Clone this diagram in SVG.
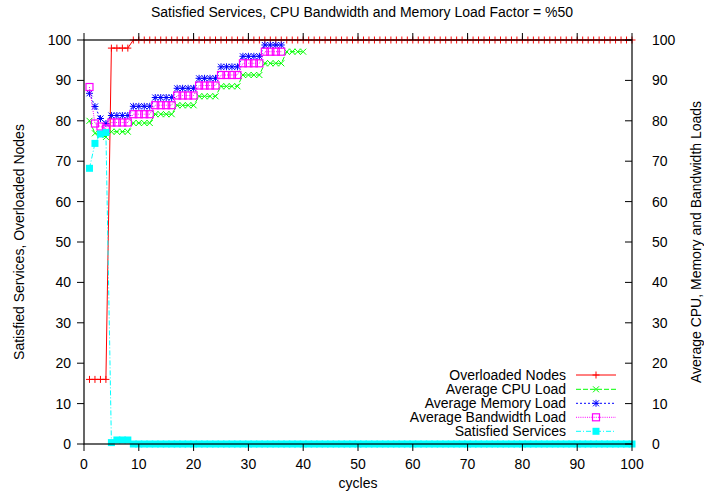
<svg xmlns="http://www.w3.org/2000/svg" width="704" height="495" viewBox="0 0 704 495">
<style>
text{font-family:"Liberation Sans",Arial,Helvetica,sans-serif;font-size:14px;fill:#000}
.r{text-anchor:end}.m{text-anchor:middle}
.ax{fill:none;stroke:#000;stroke-width:1.2}
.tk{fill:none;stroke:#000;stroke-width:1}
.s1{fill:none;stroke:#ff0000;stroke-width:1;marker-start:url(#mPlus);marker-mid:url(#mPlus);marker-end:url(#mPlus)}
.s2{fill:none;stroke:#00ff00;stroke-width:1;stroke-dasharray:5 2;marker-start:url(#mX);marker-mid:url(#mX);marker-end:url(#mX)}
.s3{fill:none;stroke:#0000ff;stroke-width:1;stroke-dasharray:2 2;marker-start:url(#mStar);marker-mid:url(#mStar);marker-end:url(#mStar)}
.s4{fill:none;stroke:#ff00ff;stroke-width:1;stroke-dasharray:1 1.2;marker-start:url(#mBox);marker-mid:url(#mBox);marker-end:url(#mBox)}
.s5{fill:none;stroke:#00ffff;stroke-width:1;stroke-dasharray:5 2 1 2;marker-start:url(#mSq);marker-mid:url(#mSq);marker-end:url(#mSq)}
</style>
<defs>
<marker id="mPlus" markerUnits="userSpaceOnUse" overflow="visible" refX="0" refY="0"><path d="M-3.5 0H3.5M0 -3.5V3.5" stroke="#ff0000" stroke-width="1" fill="none"/></marker>
<marker id="mX" markerUnits="userSpaceOnUse" overflow="visible" refX="0" refY="0"><path d="M-3 -3L3 3M-3 3L3 -3" stroke="#00ff00" stroke-width="1" fill="none"/></marker>
<marker id="mStar" markerUnits="userSpaceOnUse" overflow="visible" refX="0" refY="0"><path d="M-3.5 0H3.5M0 -3.5V3.5M-3 -3L3 3M-3 3L3 -3" stroke="#0000ff" stroke-width="1" fill="none"/></marker>
<marker id="mBox" markerUnits="userSpaceOnUse" overflow="visible" refX="0" refY="0"><rect x="-3.5" y="-3.5" width="7" height="7" stroke="#ff00ff" stroke-width="1.2" fill="none"/></marker>
<marker id="mSq" markerUnits="userSpaceOnUse" overflow="visible" refX="0" refY="0"><rect x="-3.5" y="-3.5" width="7" height="7" fill="#00ffff"/></marker>
</defs>
<rect width="704" height="495" fill="#fff"/>
<text id="title" class="m" x="362" y="17">Satisfied Services, CPU Bandwidth and Memory Load Factor = %50</text>

<g id="series">
<polyline id="overloaded" class="s1" points="89.48,379.4 94.96,379.4 100.44,379.4 105.92,379.4 111.4,48.1 116.88,48.1 122.36,48.1 127.84,48.1 133.32,40 138.8,40 144.28,40 149.76,40 155.24,40 160.72,40 166.2,40 171.68,40 177.16,40 182.64,40 188.12,40 193.6,40 199.08,40 204.56,40 210.04,40 215.52,40 221,40 226.48,40 231.96,40 237.44,40 242.92,40 248.4,40 253.88,40 259.36,40 264.84,40 270.32,40 275.8,40 281.28,40 286.76,40 292.24,40 297.72,40 303.2,40 308.68,40 314.16,40 319.64,40 325.12,40 330.6,40 336.08,40 341.56,40 347.04,40 352.52,40 358,40 363.48,40 368.96,40 374.44,40 379.92,40 385.4,40 390.88,40 396.36,40 401.84,40 407.32,40 412.8,40 418.28,40 423.76,40 429.24,40 434.72,40 440.2,40 445.68,40 451.16,40 456.64,40 462.12,40 467.6,40 473.08,40 478.56,40 484.04,40 489.52,40 495,40 500.48,40 505.96,40 511.44,40 516.92,40 522.4,40 527.88,40 533.36,40 538.84,40 544.32,40 549.8,40 555.28,40 560.76,40 566.24,40 571.72,40 577.2,40 582.68,40 588.16,40 593.64,40 599.12,40 604.6,40 610.08,40 615.56,40 621.04,40 626.52,40 632,40"/>
<polyline id="cpu" class="s2" points="89.48,120.8 94.96,133.3 100.44,135 105.92,137 111.4,131.7 116.88,131.7 122.36,131.7 127.84,131.7 133.32,123 138.8,123 144.28,123 149.76,123 155.24,114.2 160.72,114.2 166.2,114.2 171.68,114.2 177.16,105.3 182.64,105.3 188.12,105.3 193.6,105.3 199.08,96.3 204.56,96.3 210.04,96.3 215.52,96.3 221,86.3 226.48,86.3 231.96,86.3 237.44,86.3 242.92,75 248.4,75 253.88,75 259.36,75 264.84,63.3 270.32,63.3 275.8,63.3 281.28,63.3 286.76,51.7 292.24,51.7 297.72,51.7 303.2,51.7"/>
<polyline id="memory" class="s3" points="89.48,93.3 94.96,106.5 100.44,118.5 105.92,123.5 111.4,115.5 116.88,115.5 122.36,115.5 127.84,115.5 133.32,106.3 138.8,106.3 144.28,106.3 149.76,106.3 155.24,97.5 160.72,97.5 166.2,97.5 171.68,97.5 177.16,88.3 182.64,88.3 188.12,88.3 193.6,88.3 199.08,78.3 204.56,78.3 210.04,78.3 215.52,78.3 221,66.8 226.48,66.8 231.96,66.8 237.44,66.8 242.92,56.3 248.4,56.3 253.88,56.3 259.36,56.3 264.84,45 270.32,45 275.8,45 281.28,45"/>
<polyline id="bandwidth" class="s4" points="89.48,87 94.96,123.5 100.44,126.5 105.92,128.5 111.4,122.5 116.88,122.5 122.36,122.5 127.84,122.5 133.32,114.2 138.8,114.2 144.28,114.2 149.76,114.2 155.24,105.2 160.72,105.2 166.2,105.2 171.68,105.2 177.16,95.5 182.64,95.5 188.12,95.5 193.6,95.5 199.08,85.5 204.56,85.5 210.04,85.5 215.52,85.5 221,75 226.48,75 231.96,75 237.44,75 242.92,63.3 248.4,63.3 253.88,63.3 259.36,63.3 264.84,51.7 270.32,51.7 275.8,51.7 281.28,51.7"/>
<polyline id="satisfied" class="s5" points="89.48,168.3 94.96,143.4 100.44,134 105.92,132.5 111.4,442.6 116.88,440 122.36,440 127.84,440 133.32,444 138.8,444 144.28,444 149.76,444 155.24,444 160.72,444 166.2,444 171.68,444 177.16,444 182.64,444 188.12,444 193.6,444 199.08,444 204.56,444 210.04,444 215.52,444 221,444 226.48,444 231.96,444 237.44,444 242.92,444 248.4,444 253.88,444 259.36,444 264.84,444 270.32,444 275.8,444 281.28,444 286.76,444 292.24,444 297.72,444 303.2,444 308.68,444 314.16,444 319.64,444 325.12,444 330.6,444 336.08,444 341.56,444 347.04,444 352.52,444 358,444 363.48,444 368.96,444 374.44,444 379.92,444 385.4,444 390.88,444 396.36,444 401.84,444 407.32,444 412.8,444 418.28,444 423.76,444 429.24,444 434.72,444 440.2,444 445.68,444 451.16,444 456.64,444 462.12,444 467.6,444 473.08,444 478.56,444 484.04,444 489.52,444 495,444 500.48,444 505.96,444 511.44,444 516.92,444 522.4,444 527.88,444 533.36,444 538.84,444 544.32,444 549.8,444 555.28,444 560.76,444 566.24,444 571.72,444 577.2,444 582.68,444 588.16,444 593.64,444 599.12,444 604.6,444 610.08,444 615.56,444 621.04,444 626.52,444 632,444"/>
</g>

<g id="axes">
<rect class="ax" x="84" y="40" width="548" height="404"/>
<path class="tk" d="M84 444v7M138.8 444v7M193.6 444v7M248.4 444v7M303.2 444v7M358 444v7M412.8 444v7M467.6 444v7M522.4 444v7M577.2 444v7M632 444v7M84 40v-7M138.8 40v-7M193.6 40v-7M248.4 40v-7M303.2 40v-7M358 40v-7M412.8 40v-7M467.6 40v-7M522.4 40v-7M577.2 40v-7M632 40v-7M84 444h-7M84 403.6h-7M84 363.2h-7M84 322.8h-7M84 282.4h-7M84 242h-7M84 201.6h-7M84 161.2h-7M84 120.8h-7M84 80.4h-7M84 40h-7M632 444h-7M632 403.6h-7M632 363.2h-7M632 322.8h-7M632 282.4h-7M632 242h-7M632 201.6h-7M632 161.2h-7M632 120.8h-7M632 80.4h-7M632 40h-7"/>
<g id="xlabels" class="m">
<text class="m" x="84" y="469">0</text><text class="m" x="138.8" y="469">10</text><text class="m" x="193.6" y="469">20</text><text class="m" x="248.4" y="469">30</text><text class="m" x="303.2" y="469">40</text><text class="m" x="358" y="469">50</text><text class="m" x="412.8" y="469">60</text><text class="m" x="467.6" y="469">70</text><text class="m" x="522.4" y="469">80</text><text class="m" x="577.2" y="469">90</text><text class="m" x="632" y="469">100</text>
</g>
<g id="ylabels">
<text class="r" x="71" y="449">0</text><text class="r" x="71" y="408.6">10</text><text class="r" x="71" y="368.2">20</text><text class="r" x="71" y="327.8">30</text><text class="r" x="71" y="287.4">40</text><text class="r" x="71" y="247">50</text><text class="r" x="71" y="206.6">60</text><text class="r" x="71" y="166.2">70</text><text class="r" x="71" y="125.8">80</text><text class="r" x="71" y="85.4">90</text><text class="r" x="71" y="45">100</text>
</g>
<g id="y2labels">
<text x="652" y="449">0</text><text x="652" y="408.6">10</text><text x="652" y="368.2">20</text><text x="652" y="327.8">30</text><text x="652" y="287.4">40</text><text x="652" y="247">50</text><text x="652" y="206.6">60</text><text x="652" y="166.2">70</text><text x="652" y="125.8">80</text><text x="652" y="85.4">90</text><text x="652" y="45">100</text>
</g>
<text id="xtitle" class="m" x="358" y="488">cycles</text>
<text id="ytitle" class="m" transform="translate(24 242) rotate(-90)">Satisfied Services, Overloaded Nodes</text>
<text id="y2title" class="m" transform="translate(701 242) rotate(-90)">Average CPU, Memory and Bandwidth Loads</text>
</g>

<g id="legend">
<g id="leg-overloaded"><text class="r" x="566" y="380">Overloaded Nodes</text><polyline class="s1" points="576,375 596,375 616,375" style="marker-start:none;marker-end:none"/></g>
<g id="leg-cpu"><text class="r" x="566" y="394.3">Average CPU Load</text><polyline class="s2" points="576,389.3 596,389.3 616,389.3" style="marker-start:none;marker-end:none"/></g>
<g id="leg-memory"><text class="r" x="566" y="408.3">Average Memory Load</text><polyline class="s3" points="576,403.3 596,403.3 616,403.3" style="marker-start:none;marker-end:none"/></g>
<g id="leg-bandwidth"><text class="r" x="566" y="422.3">Average Bandwidth Load</text><polyline class="s4" points="576,417.3 596,417.3 616,417.3" style="marker-start:none;marker-end:none"/></g>
<g id="leg-satisfied"><text class="r" x="566" y="436.3">Satisfied Services</text><polyline class="s5" points="576,431.3 596,431.3 616,431.3" style="marker-start:none;marker-end:none"/></g>
</g>
</svg>
